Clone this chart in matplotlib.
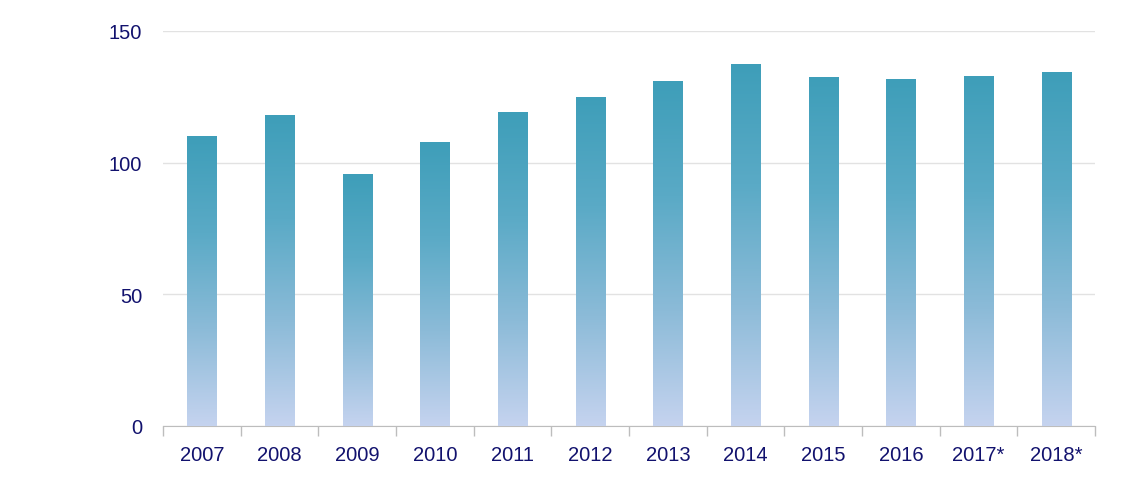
import matplotlib
matplotlib.use("Agg")
import matplotlib.pyplot as plt
import numpy as np
from matplotlib.colors import LinearSegmentedColormap

plt.rcParams['font.family'] = ['Liberation Sans', 'DejaVu Sans']

years = ["2007", "2008", "2009", "2010", "2011", "2012", "2013", "2014", "2015", "2016", "2017*", "2018*"]
values = [110.1, 118.1, 95.7, 107.9, 119.3, 125.0, 131.0, 137.5, 132.5, 131.8, 133.0, 134.4]

navy = "#12126e"
grad = LinearSegmentedColormap.from_list("bar", ["#c5d3ef", "#8cbbd8", "#5aaac6", "#3e9eb9"])

fig = plt.figure(figsize=(11.25, 5.02), dpi=100)
ax = fig.add_axes([163 / 1125, 1 - 427 / 502, (1095 - 163) / 1125, (427 - 32) / 502])

x = np.arange(len(years))
bars = ax.bar(x, values, width=0.375, color="none", edgecolor="none", zorder=3)
ax.set_xlim(-0.5, len(years) - 0.5)
ax.set_ylim(0, 150)

# vertical gradient, stretched over each bar's own height
gradient = np.linspace(0, 1, 256).reshape(-1, 1)
for b in bars:
    bx, w, h = b.get_x(), b.get_width(), b.get_height()
    im = ax.imshow(gradient, cmap=grad, origin="lower", aspect="auto",
                   extent=[bx, bx + w, 0, h], zorder=3)
    im.set_clip_path(b)

ax.set_yticks([0, 50, 100, 150])
ax.yaxis.grid(True, color="#e2e2e2", linewidth=1)
ax.set_axisbelow(True)
for s in ["top", "right", "left"]:
    ax.spines[s].set_visible(False)
ax.spines["bottom"].set_color("#bdbdbd")
ax.tick_params(axis="y", length=0, pad=15, labelsize=14.5, labelcolor=navy)

ax.set_xticks(x)
ax.set_xticklabels(years)
ax.tick_params(axis="x", length=0, pad=14, labelsize=14.5, labelcolor=navy)
ax.set_xticks(np.arange(-0.5, len(years)), minor=True)
ax.tick_params(axis="x", which="minor", length=7, color="#bdbdbd", width=1)

fig.savefig("out.png", dpi=100)
